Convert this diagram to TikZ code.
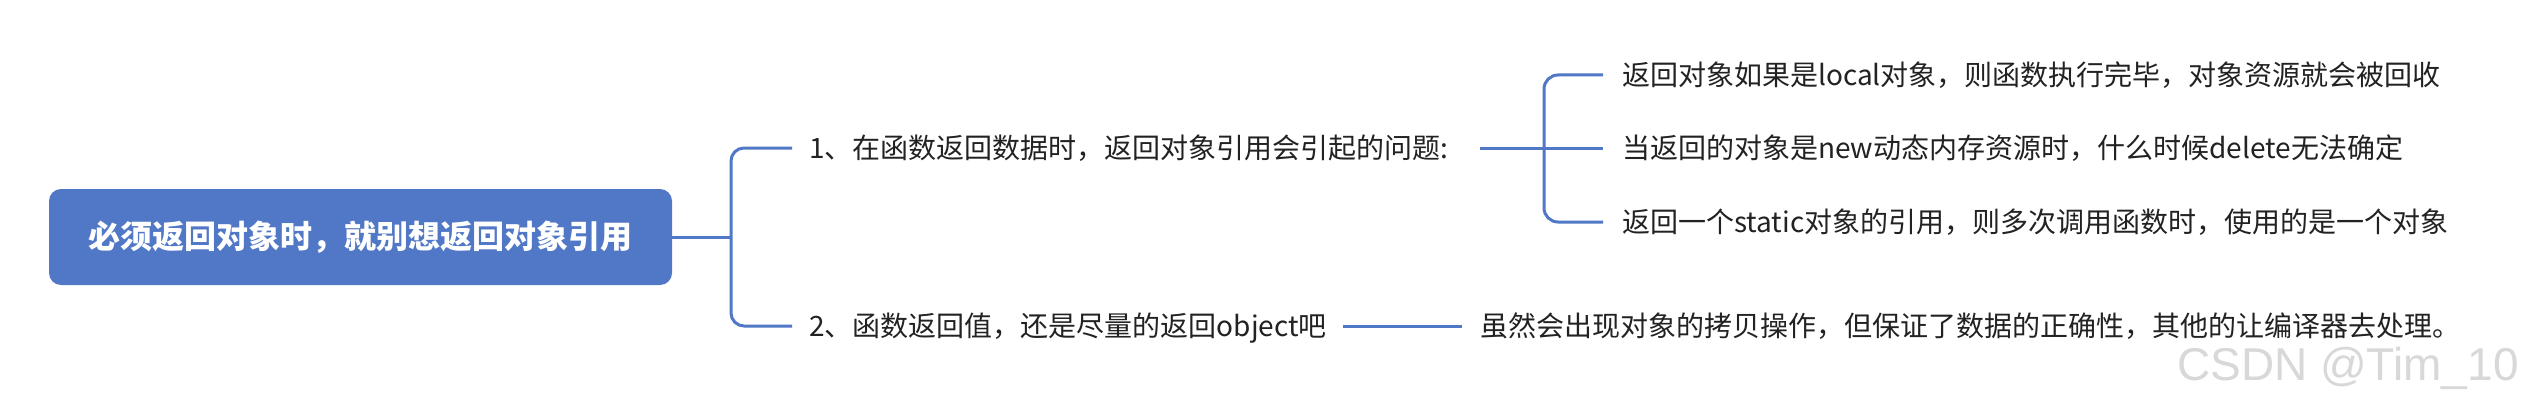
\documentclass[tikz,border=0pt]{standalone}
\usepackage{fontspec}
\setmainfont{Noto Sans CJK SC}
\newfontfamily\wmfont{Liberation Sans}
\definecolor{mmblue}{RGB}{80,120,198}
\definecolor{mmtext}{RGB}{34,34,34}
\definecolor{wmgray}{RGB}{216,216,216}
\begin{document}
\begin{tikzpicture}[x=1pt,y=-1pt,
  conn/.style={draw=mmblue,line width=3pt},
  leaf/.style={anchor=west,inner sep=0pt,font=\fontsize{28}{30}\selectfont,text=mmtext,text height=23pt,text depth=2pt},
  rootbox/.style={fill=mmblue,rounded corners=12pt,inner sep=0pt,minimum width=623pt,minimum height=96pt,text=white,font=\fontsize{32}{34}\selectfont\bfseries}]
\useasboundingbox (0,0) rectangle (2522,404);
\fill[white] (0,0) rectangle (2522,404);

\node[rootbox] (root) at (360.5,237) {必须返回对象时，就别想返回对象引用};
\coordinate (j0) at (731,237);

\node[leaf] (b1) at (809,148) {1、在函数返回数据时，返回对象引用会引起的问题:};
\node[leaf] (b2) at (809,326) {2、函数返回值，还是尽量的返回object吧};

\coordinate (j1) at (1544,148);
\node[leaf] (s1) at (1622,75) {返回对象如果是local对象，则函数执行完毕，对象资源就会被回收};
\node[leaf] (s2) at (1622,148) {当返回的对象是new动态内存资源时，什么时候delete无法确定};
\node[leaf] (s3) at (1622,222) {返回一个static对象的引用，则多次调用函数时，使用的是一个对象};

\node[leaf] (c1) at (1480,326) {虽然会出现对象的拷贝操作，但保证了数据的正确性，其他的让编译器去处理。};

\draw[conn] (root.east) -- (j0);
\draw[conn,rounded corners=13pt] ([xshift=-17pt]b1.west) -- (b1.west -| j0) -- (b2.west -| j0) -- ([xshift=-17pt]b2.west);

\draw[conn] ([xshift=31pt]b1.east) -- (j1);
\draw[conn] (j1) -- ([xshift=-19pt]s2.west);
\draw[conn,rounded corners=14pt] ([xshift=-19pt]s1.west) -- (s1.west -| j1) -- (s3.west -| j1) -- ([xshift=-19pt]s3.west);

\draw[conn] ([xshift=16pt]b2.east) -- ([xshift=-18pt]c1.west);

\node[anchor=base west,inner sep=0pt,font=\wmfont\fontsize{46}{48}\selectfont,text=wmgray] (wm) at (2177,380) {CSDN @Tim\_10};
\end{tikzpicture}
\end{document}
